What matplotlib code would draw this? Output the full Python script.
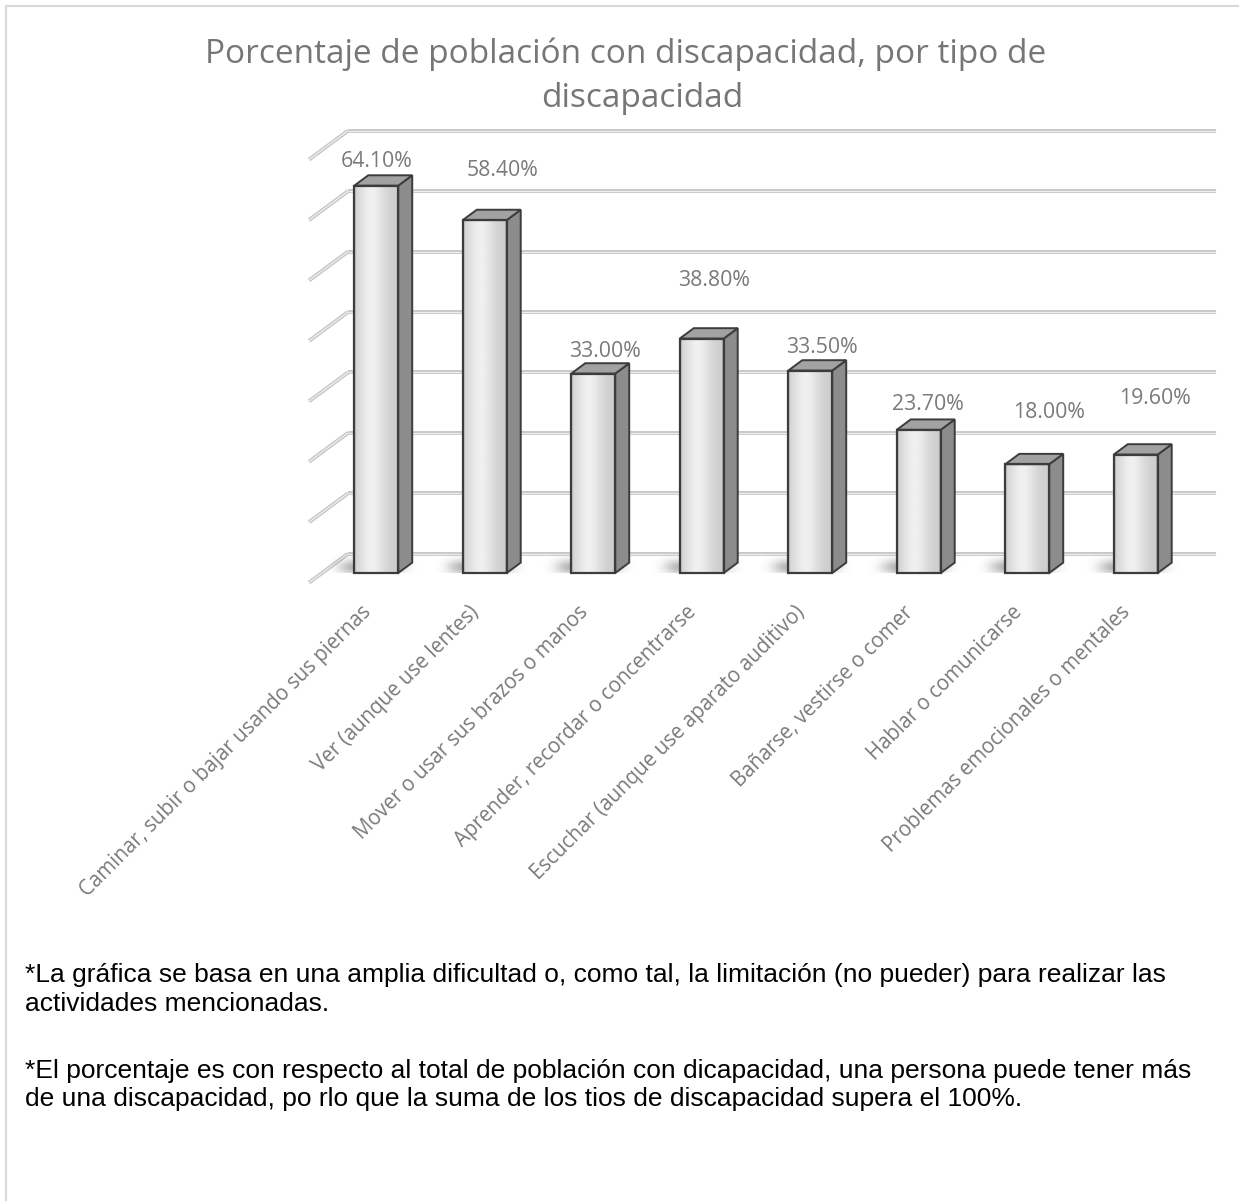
import numpy as np
import matplotlib
matplotlib.use("Agg")
import matplotlib.pyplot as plt
from matplotlib.patches import Polygon
from matplotlib.lines import Line2D

# datos
categorias = [
    "Caminar, subir o bajar usando sus piernas",
    "Ver (aunque use lentes)",
    "Mover o usar sus brazos o manos",
    "Aprender, recordar o concentrarse",
    "Escuchar (aunque use aparato auditivo)",
    "Bañarse, vestirse o comer",
    "Hablar o comunicarse",
    "Problemas emocionales o mentales",
]
porcentajes = [64.1, 58.4, 33.0, 38.8, 33.5, 23.7, 18.0, 19.6]
etiquetas = ["%.2f%%" % v for v in porcentajes]

titulo = ["Porcentaje de población con discapacidad, por tipo de", "discapacidad"]
notas = [
    "*La gráfica se basa en una amplia dificultad o, como tal, la limitación (no pueder) para realizar las",
    "actividades mencionadas.",
    "*El porcentaje es con respecto al total de población con dicapacidad, una persona puede tener más",
    "de una discapacidad, po rlo que la suma de los tios de discapacidad supera el 100%.",
]

# desplazamiento (px) de cada etiqueta de valor respecto a la cara frontal
desfase_etiquetas = [(0, 24), (18, 50), (12, 22), (12, 58), (12, 23), (9, 25), (22, 52), (19, 56)]

W, H = 1248, 1201
fig = plt.figure(figsize=(W / 100, H / 100), dpi=100)
fig.patch.set_facecolor("white")

ax_px = (322, 573, 868, 423)  # izquierda, base, ancho, alto en pixeles
ax = fig.add_axes([ax_px[0] / W, 1 - ax_px[1] / H, ax_px[2] / W, ax_px[3] / H])
ax.set_xlim(-0.5, 7.5)
ax.set_ylim(0, 70)
ax.axis("off")

ux = 8 / ax_px[2]
uy = 70 / ax_px[3]


def prof(p):
    # desplazamiento oblicuo hacia el fondo, p en pixeles
    return p * ux, 0.74 * p * uy


GRIS_REJ = "#c6c6c6"
# pared de fondo y pared lateral
bx, by = prof(26)
fx, fy = prof(-13)
for v in range(0, 71, 10):
    for lw, c in [(2.8, GRIS_REJ), (0.9, "#eeeeee")]:
        ax.plot([-0.5 + bx, 7.5 + bx], [v + by, v + by], color=c, lw=lw,
                solid_capstyle="butt", zorder=1, clip_on=False)
        ax.plot([-0.5 + bx, -0.5 + fx], [v + by, v + fy], color=c, lw=lw,
                solid_capstyle="butt", zorder=1, clip_on=False)

x = np.arange(len(categorias))
barras = ax.bar(x, porcentajes, width=0.405, facecolor="none", edgecolor="#3c3c3c",
                lw=1.6, zorder=6, clip_on=False)

# degradado de la cara frontal
t = np.linspace(0, 1, 60)
grad = 0.80 + 0.14 * np.exp(-((t - 0.4) / 0.32) ** 2)
grad[:3] = 0.78
grad = np.tile(grad, (2, 1))

# sombra difusa sobre el piso
sx = np.linspace(-1, 1, 90)
sy = np.linspace(-1, 1, 40)
SX, SY = np.meshgrid(sx, sy)
alfa = np.exp(-((SX + 0.1) / 0.6) ** 4) * np.exp(-(SY / 0.55) ** 2)
alfa *= 0.55 * (1 - 0.45 * (SX + 1) / 2)
sombra = np.zeros(SX.shape + (4,))
sombra[..., :3] = 0.3
sombra[..., 3] = alfa

dx, dy = prof(14)
for b in barras:
    x0, w, h = b.get_x(), b.get_width(), b.get_height()

    ax.imshow(sombra, extent=(x0 - 30 * ux, x0 + w + 34 * ux, -8 * uy, 20 * uy),
              aspect="auto", zorder=2, interpolation="bilinear", origin="lower")

    ax.imshow(grad, extent=(x0, x0 + w, 0, h), aspect="auto", cmap="gray",
              vmin=0, vmax=1, zorder=4, interpolation="bilinear")

    lado = Polygon([(x0 + w, 0), (x0 + w + dx, dy), (x0 + w + dx, h + dy), (x0 + w, h)],
                   closed=True, facecolor="#8c8c8c", edgecolor="#3c3c3c", lw=1.4,
                   zorder=5, clip_on=False)
    tapa = Polygon([(x0, h), (x0 + w, h), (x0 + w + dx, h + dy), (x0 + dx, h + dy)],
                   closed=True, facecolor="#a2a2a2", edgecolor="#3c3c3c", lw=1.4,
                   zorder=5, clip_on=False)
    ax.add_patch(lado)
    ax.add_patch(tapa)

ax.set_xlim(-0.5, 7.5)
ax.set_ylim(0, 70)

GRIS_TXT = "#7a7a7a"
for b, txt, (ox, oy) in zip(barras, etiquetas, desfase_etiquetas):
    xc = b.get_x() + b.get_width() / 2
    ax.annotate(txt, (xc, b.get_height()), xytext=(ox, oy), textcoords="offset pixels",
                ha="center", va="center", fontsize=15.3, family="Open Sans",
                color=GRIS_TXT, zorder=8, annotation_clip=False)

for i, cat in enumerate(categorias):
    ax.annotate(cat, (i, 0), xytext=(-16, -29), textcoords="offset pixels",
                ha="right", va="top", rotation=45, rotation_mode="anchor",
                fontsize=14.8, family="Open Sans", color=GRIS_TXT, annotation_clip=False)

# titulo
fig.text(626 / W, 1 - 63 / H, titulo[0], ha="center", va="baseline", fontsize=24,
         family="Open Sans", color="#767676")
fig.text(642 / W, 1 - 107 / H, titulo[1], ha="center", va="baseline", fontsize=24,
         family="Open Sans", color="#767676")

# notas al pie
for txt, yb in zip(notas, [982, 1011, 1078, 1106]):
    fig.text(25 / W, 1 - yb / H, txt, ha="left", va="baseline", fontsize=19.0,
             family="Liberation Sans", color="black")

# borde del recuadro
fig.add_artist(Line2D([6 / W, 6 / W], [0, 1 - 6 / H], transform=fig.transFigure,
                      color="#d9d9d9", lw=1.5))
fig.add_artist(Line2D([6 / W, 1238 / W], [1 - 6 / H, 1 - 6 / H], transform=fig.transFigure,
                      color="#d9d9d9", lw=1.5))

fig.savefig("out.png", dpi=100)
